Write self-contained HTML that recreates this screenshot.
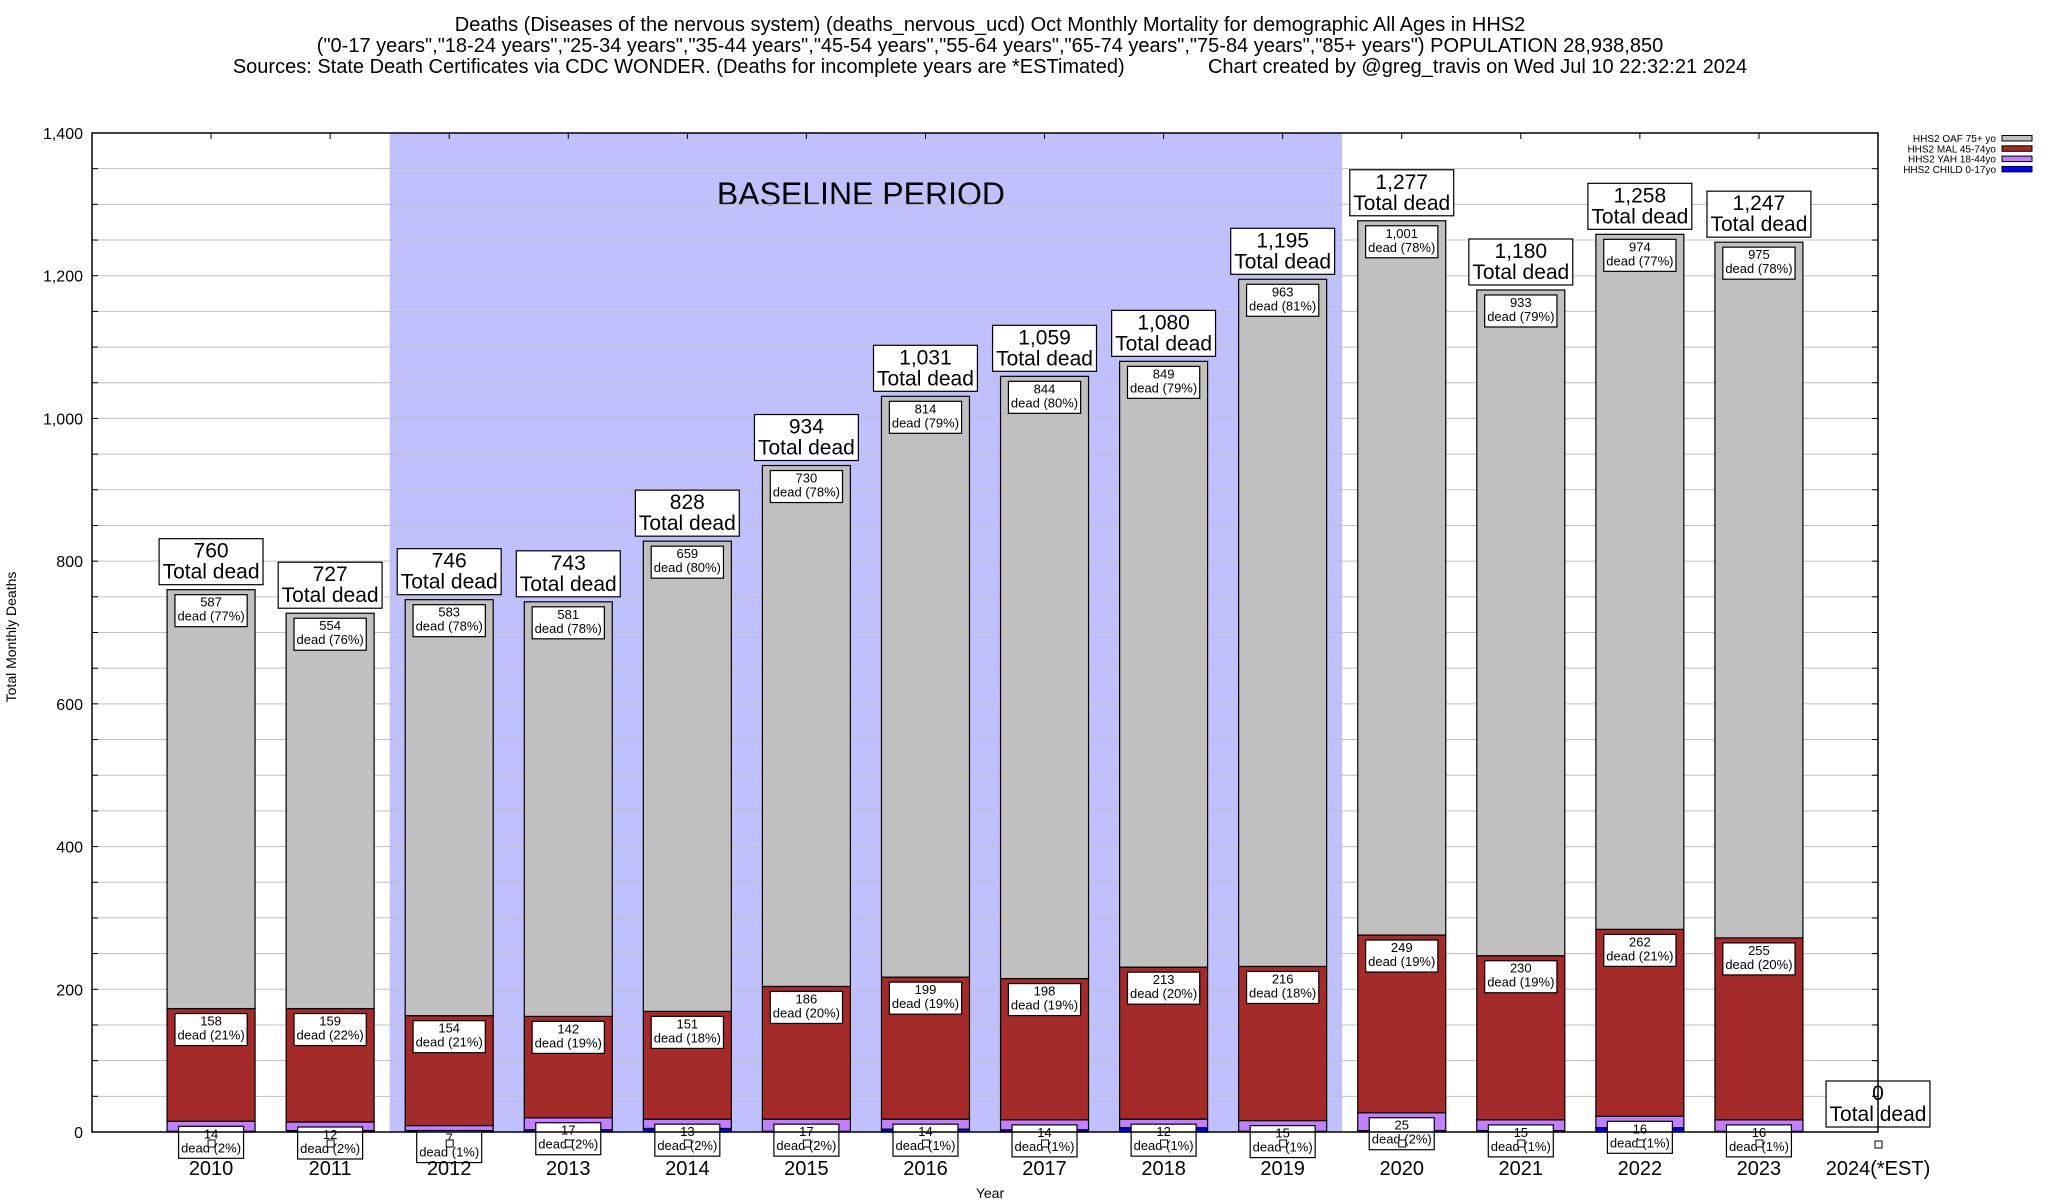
<!DOCTYPE html>
<html><head><meta charset="utf-8"><style>
html,body{margin:0;padding:0;background:#fff;}
svg{display:block;font-family:"Liberation Sans",Arial,sans-serif;}
</style></head><body>
<svg id="chart" width="2048" height="1200" viewBox="0 0 2048 1200" xmlns="http://www.w3.org/2000/svg">
<g font-size="20" text-anchor="middle" fill="#000">
<text x="990" y="31">Deaths (Diseases of the nervous system) (deaths_nervous_ucd) Oct Monthly Mortality for demographic All Ages in HHS2</text>
<text x="990" y="52">("0-17 years","18-24 years","25-34 years","35-44 years","45-54 years","55-64 years","65-74 years","75-84 years","85+ years") POPULATION 28,938,850</text>
<text x="990" y="73" xml:space="preserve">Sources: State Death Certificates via CDC WONDER. (Deaths for incomplete years are *ESTimated)               Chart created by @greg_travis on Wed Jul 10 22:32:21 2024</text>
</g>
<g id="grid"></g>
<g id="bars"></g>
<g id="labels"></g>
<g id="axes"></g>
<g id="legend"></g>
<text x="16" y="637" font-size="14" text-anchor="middle" transform="rotate(-90 16 637)">Total Monthly Deaths</text>
<text x="990" y="1198" font-size="14" text-anchor="middle">Year</text>
</svg>
<script>
const years = ["2010","2011","2012","2013","2014","2015","2016","2017","2018","2019","2020","2021","2022","2023","2024(*EST)"];
const child = [1,2,2,3,5,1,4,3,6,1,2,2,6,1,0];
const yah = [14,12,7,17,13,17,14,14,12,15,25,15,16,16,0];
const mal = [158,159,154,142,151,186,199,198,213,216,249,230,262,255,0];
const oaf = [587,554,583,581,659,730,814,844,849,963,1001,933,974,975,0];
const yTicks = [0,200,400,600,800,1000,1200,1400];
const seriesNames = ["HHS2 OAF 75+ yo","HHS2 MAL 45-74yo","HHS2 YAH 18-44yo","HHS2 CHILD 0-17yo"];
const baselineStart = 2, baselineEnd = 9;

const NS="http://www.w3.org/2000/svg";
const L=92,R=1878,T=133,B=1132,YMAX=1400;
const colors=["#c0c0c0","#a52a2a","#c080ff","#0000ff"];
function ys(v){return B-(v/YMAX)*(B-T);}
function xs(i){return L+(i+1)*(R-L)/15;}
const BW=88;
function mk(tag,attrs,parent,text){const e=document.createElementNS(NS,tag);for(const k in attrs)e.setAttribute(k,attrs[k]);if(text!==undefined)e.textContent=text;parent.appendChild(e);return e;}
const grid=document.getElementById('grid'),bars=document.getElementById('bars'),labels=document.getElementById('labels'),axes=document.getElementById('axes'),legend=document.getElementById('legend');

const bs=mk('rect',{x:(xs(baselineStart-1)+xs(baselineStart))/2,y:T,width:(xs(baselineEnd)+xs(baselineEnd+1))/2-(xs(baselineStart-1)+xs(baselineStart))/2,height:B-T,fill:'#c0c0ff'},grid);


const bt=mk('text',{x:(xs(baselineStart)+xs(baselineEnd))/2-5,y:205,'font-size':32,'text-anchor':'middle'},grid,'BASELINE PERIOD');



for(let v=50;v<YMAX;v+=50){
  const g=mk('line',{x1:L,x2:R,y1:ys(v),y2:ys(v),stroke:'#c0c0c0','stroke-width':1},grid);
  
  
  mk('line',{x1:L,x2:L+6,y1:ys(v),y2:ys(v),stroke:'#000'},axes);
  mk('line',{x1:R-6,x2:R,y1:ys(v),y2:ys(v),stroke:'#000'},axes);
}
yTicks.forEach(v=>{
  const t=mk('text',{x:83,y:ys(v)+6,'font-size':16,'text-anchor':'end'},axes,v.toLocaleString('en-US'));
  
  
});
const frame=mk('rect',{x:L,y:T,width:R-L,height:B-T,fill:'none',stroke:'#000','stroke-width':1.5},axes);



function box(cx,top,lines,fs,lh,padW,name){
  const g=mk('g',{},labels);
  
  
  const h=lines.length*lh+4;
  const r=mk('rect',{x:cx,y:top,width:10,height:h,fill:'#fff',stroke:'#000','stroke-width':1.2},g);
  let w=0;
  lines.forEach((s,k)=>{const t=mk('text',{x:cx,y:top+lh*(k+1)-2,'font-size':fs,'text-anchor':'middle'},g,s);w=Math.max(w,t.getComputedTextLength());});
  w+=padW;
  r.setAttribute('x',cx-w/2);
  r.setAttribute('width',w);
  return g;
}

years.forEach((yr,i)=>{
  const cx=xs(i);
  mk('line',{x1:cx,x2:cx,y1:T,y2:T+6,stroke:'#000'},axes);
  const xl=mk('text',{x:cx,y:1175,'font-size':20,'text-anchor':'middle'},axes,yr);
  
  
  const segs=[child[i],yah[i],mal[i],oaf[i]];
  const total=segs.reduce((a,b)=>a+b,0);
  let base=0;
  const tops=[];
  segs.forEach((v,k)=>{
    const y0=ys(base),y1=ys(base+v);
    tops.push(y1);
    if(v>0){
      const r=mk('rect',{x:cx-BW/2,y:y1,width:BW,height:y0-y1,fill:colors[3-k],stroke:'#000','stroke-width':1.2},bars);
      
      
    }
    base+=v;
  });
  if(total>0){
    [3,2,1].forEach(k=>{
      const v=segs[k];
      const pct=Math.round(v/total*100);
      box(cx,tops[k]+5,[String(v.toLocaleString('en-US')),'dead ('+pct+'%)'],13,14,5,'segment-label');
    });
    const sq=mk('rect',{x:cx-3,y:1140,width:7,height:7,fill:'#fff',stroke:'#000'},labels);
    
    
  } else {
    const sq=mk('rect',{x:cx-3,y:1141,width:7,height:7,fill:'#fff',stroke:'#000'},labels);
    
    
  }
  box(cx,ys(total)-51,[total.toLocaleString('en-US'),'Total dead'],21,21,7,'total-label');
});

seriesNames.forEach((n,k)=>{
  const y=138+k*10.3;
  const t=mk('text',{x:1996,y:y+4,'font-size':10,'text-anchor':'end'},legend,n);
  
  
  mk('rect',{x:2002,y:y-2.5,width:30,height:5.5,fill:colors[k],stroke:'#000','stroke-width':1},legend);
});
</script>
</body></html>
